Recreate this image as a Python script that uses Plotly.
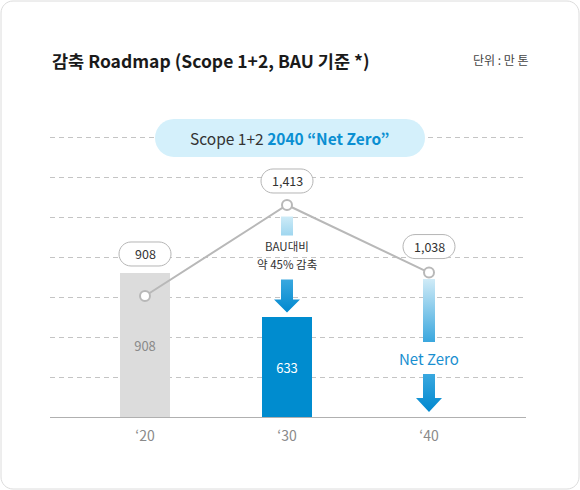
import plotly.graph_objects as go

# 데이터
years = ["‘20", "‘30", "‘40"]
bau = [908, 1413, 1038]            # BAU 배출량 (꺾은선)
roadmap = [908, 633, 0]            # 감축 로드맵 (막대)
bar_text = ["908", "633", ""]
bau_text = ["908", "1,413", "1,038"]

FONT = "Noto Sans CJK KR, Noto Sans, sans-serif"
BLUE = "#0a8fd2"

# 플롯 영역 (px)
L, R, T, B = 50, 54, 127, 73
W, H = 580, 490
PW, PH = W - L - R, H - T - B
CAT_PX = 142                       # 카테고리 간격
Y_PER_PX = 6.3                     # 막대 축 단위 / px
Y2_RANGE = [236.5, 1845.8]


def px_x(px):
    return (px - L) / PW


def px_y(py):
    return (H - B - py) / PH


def up(p):
    # 기준선에서 p px 위 (막대 축 값)
    return p * Y_PER_PX


def rrect(x0, x1, y0, y1, r):
    k = 0.5523 * r
    return (f"M {x0 + r},{y0} L {x1 - r},{y0} "
            f"C {x1 - r + k},{y0} {x1},{y0 + r - k} {x1},{y0 + r} "
            f"L {x1},{y1 - r} "
            f"C {x1},{y1 - r + k} {x1 - r + k},{y1} {x1 - r},{y1} "
            f"L {x0 + r},{y1} "
            f"C {x0 + r - k},{y1} {x0},{y1 - r + k} {x0},{y1 - r} "
            f"L {x0},{y0 + r} "
            f"C {x0},{y0 + r - k} {x0 + r - k},{y0} {x0 + r},{y0} Z")


def grad_poly(xs, ys, bottom, top):
    return go.Scatter(x=xs, y=ys, mode="none", fill="toself",
                      fillgradient=dict(type="vertical", start=min(ys), stop=max(ys),
                                        colorscale=[[0, bottom], [1, top]]),
                      hoverinfo="skip", showlegend=False)


def arrow(c, tip, base, shaft_top, bottom, top):
    sw, hw = 6 / CAT_PX, 13 / CAT_PX
    xs = [c - sw, c + sw, c + sw, c + hw, c, c - hw, c - sw, c - sw]
    ys = [up(shaft_top), up(shaft_top), up(base), up(base), up(tip),
          up(base), up(base), up(shaft_top)]
    return grad_poly(xs, ys, bottom, top)


def strip(c, y0, y1, bottom, top):
    sw = 6 / CAT_PX
    return grad_poly([c - sw, c + sw, c + sw, c - sw, c - sw],
                     [up(y0), up(y0), up(y1), up(y1), up(y0)], bottom, top)


xi = list(range(len(years)))
fig = go.Figure()

fig.add_trace(go.Bar(
    x=xi, y=roadmap, width=50 / CAT_PX,
    marker=dict(color=["#dcdcdc", "#008ccf", "rgba(0,0,0,0)"], line=dict(width=0)),
    text=bar_text, textposition="inside", insidetextanchor="middle",
    textangle=0, constraintext="none",
    textfont=dict(family=FONT, size=13, color=["#8a8a8a", "white", "white"]),
    hoverinfo="skip", showlegend=False))

# '30 : BAU 대비 감축 화살표
top30 = roadmap[1] / Y_PER_PX
fig.add_trace(strip(1, top30 + 81, top30 + 100, "#9fd6ef", "#cdebf7"))
fig.add_trace(arrow(1, top30 + 4, top30 + 17, top30 + 37, "#0088cf", "#3aa8df"))

# '40 : Net Zero
fig.add_trace(strip(2, 75, 138, "#3aa7de", "#d0ebf7"))
fig.add_trace(arrow(2, 5, 19, 43, "#0088cf", "#3aa8df"))

fig.add_trace(go.Scatter(
    x=xi, y=bau, yaxis="y2", mode="lines+markers",
    line=dict(color="#b8b8b8", width=2),
    marker=dict(symbol="circle", size=10, color="white",
                line=dict(color="#b8b8b8", width=2)),
    cliponaxis=False, hoverinfo="skip", showlegend=False))

shapes = []
annotations = []

# 카드 테두리
shapes.append(dict(type="path", xref="paper", yref="paper",
                   xsizemode="pixel", ysizemode="pixel", xanchor=0, yanchor=0,
                   path=rrect(1 - L, W - 1 - L, -(B - 1), H - B - 1, 12),
                   line=dict(color="#dcdcdc", width=1), layer="above"))

# Scope 1+2 말풍선
shapes.append(dict(type="path", xref="paper", yref="paper",
                   xsizemode="pixel", ysizemode="pixel", xanchor=0, yanchor=0,
                   path=rrect(155 - L, 425 - L, H - B - 157, H - B - 119, 19),
                   fillcolor="#d4f0fb", line=dict(width=0), layer="above"))
annotations.append(dict(
    x=px_x(289), y=px_y(138), xref="paper", yref="paper", showarrow=False,
    xanchor="center", yanchor="middle",
    text="Scope 1+2 <b><span style='color:%s'>2040 “Net Zero”</span></b>" % BLUE,
    font=dict(family=FONT, size=15.5, color="#333333")))

# BAU 값 라벨
lifts = [42, 24, 26]
for i, v in enumerate(bau):
    shapes.append(dict(type="path", xref="x", yref="y2",
                       xsizemode="pixel", ysizemode="pixel",
                       xanchor=i, yanchor=v,
                       path=rrect(-26, 26, lifts[i] - 12, lifts[i] + 12, 12),
                       fillcolor="white", line=dict(color="#b5b5b5", width=1),
                       layer="above"))
    annotations.append(dict(x=i, y=v, xref="x", yref="y2", yshift=lifts[i],
                            showarrow=False, text=bau_text[i],
                            font=dict(family=FONT, size=12.5, color="#333333")))

for txt, lift in [("BAU대비", 70.5), ("약 45% 감축", 53)]:
    annotations.append(dict(
        x=1, y=up(top30 + lift), xref="x", yref="y", showarrow=False, text=txt,
        font=dict(family=FONT, size=11.5, color="#333333")))
annotations.append(dict(
    x=2, y=up(59), xref="x", yref="y", showarrow=False, text="Net Zero",
    font=dict(family=FONT, size=15, color="#1a8fd0")))

# 제목, 단위
annotations.append(dict(
    x=0, y=px_y(60), xref="paper", yref="paper", xanchor="left", yanchor="middle",
    showarrow=False, text="<b>감축 Roadmap (Scope 1+2, BAU 기준 *)</b>",
    font=dict(family=FONT, size=17.5, color="#1a1a1a")))
annotations.append(dict(
    x=px_x(531), y=px_y(59), xref="paper", yref="paper", xanchor="right",
    yanchor="middle", showarrow=False, text="단위 : 만 톤",
    font=dict(family=FONT, size=12, color="#444444")))

fig.update_layout(
    width=W, height=H, margin=dict(l=L, r=R, t=T, b=B),
    paper_bgcolor="white", plot_bgcolor="white",
    font=dict(family=FONT),
    shapes=shapes, annotations=annotations, bargap=0,
    xaxis=dict(range=[-(145 - L) / CAT_PX, (W - R - 145) / CAT_PX],
               tickvals=xi, ticktext=years, showgrid=False, zeroline=False,
               showline=True, linecolor="#b0b0b0", linewidth=1,
               ticks="", ticklabelstandoff=6,
               tickfont=dict(family=FONT, size=14, color="#8a8a8a")),
    yaxis=dict(range=[0, PH * Y_PER_PX], tick0=0, dtick=40 * Y_PER_PX,
               showgrid=True, gridcolor="#c4c4c4", griddash="5px,4px",
               gridwidth=1, zeroline=False, showticklabels=False, ticks=""),
    yaxis2=dict(range=Y2_RANGE, overlaying="y", visible=False, showgrid=False),
)

fig.write_html("out.html", config={"displayModeBar": False},
               post_script="document.body.style.margin = '0';")
